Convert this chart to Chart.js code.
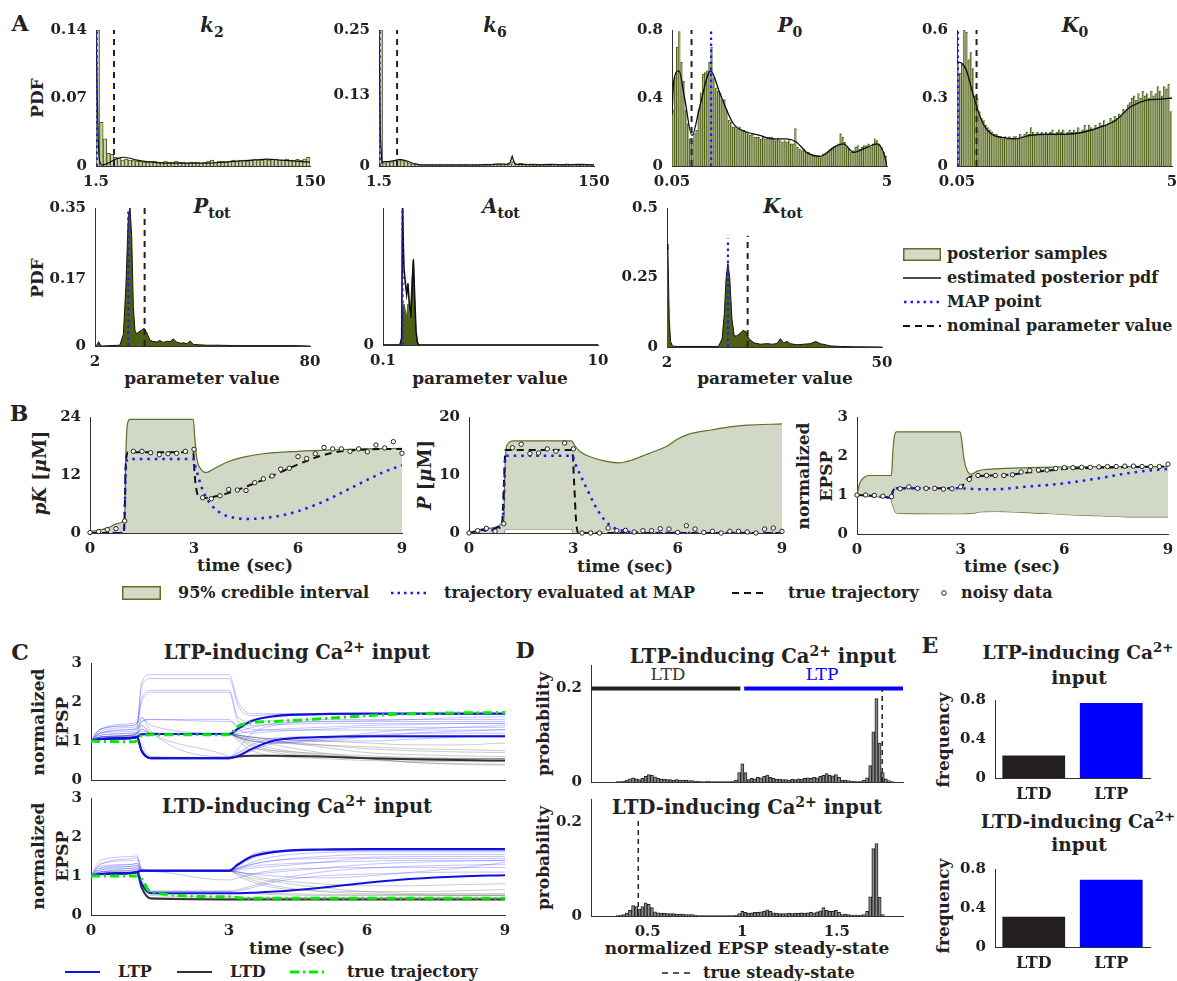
<!DOCTYPE html>
<html lang="en">
<head>
<meta charset="UTF-8" />
<title>Posterior inference and plasticity prediction</title>
<script src="https://cdn.jsdelivr.net/npm/chart.js"></script>
<style>
  body { margin: 0; background: #fff; }
  #fig { position: relative; width: 1177px; height: 981px; overflow: hidden; background: #fff;
         font-family: "DejaVu Serif", serif; font-weight: bold; color: #222; }
  #fig canvas { position: absolute; }
  #fig svg { position: absolute; overflow: visible; }
  .c { position: absolute; transform: translate(-50%, -50%); white-space: nowrap; line-height: 1.2; text-align: center; }
  .l { position: absolute; transform: translate(0, -50%); white-space: nowrap; line-height: 1.2; }
  .r { transform: translate(-50%, -50%) rotate(-90deg); }
  .panel { font-size: 22px; }
  .ttl { font-size: 19.5px; }
  .lab { font-size: 17px; }
  .leg { font-size: 16px; }
  sub { font-size: 72%; vertical-align: -0.3em; line-height: 0; }
  sup { font-size: 72%; vertical-align: 0.55em; line-height: 0; }
</style>
</head>
<body>
<div id="fig">
  <!-- panel letters -->
  <div class="c panel" style="left:20px;top:23px">A</div>
  <div class="c panel" style="left:19px;top:413px">B</div>
  <div class="c panel" style="left:20px;top:652px">C</div>
  <div class="c panel" style="left:525px;top:650px">D</div>
  <div class="c panel" style="left:930px;top:645px">E</div>

  <!-- A: parameter names -->
  <div class="c ttl" style="left:212px;top:26px"><i>k</i><sub>2</sub></div>
  <div class="c ttl" style="left:495px;top:26px"><i>k</i><sub>6</sub></div>
  <div class="c ttl" style="left:790px;top:26px"><i>P</i><sub>0</sub></div>
  <div class="c ttl" style="left:1075px;top:26px"><i>K</i><sub>0</sub></div>
  <div class="c ttl" style="left:212px;top:207px"><i>P</i><sub>tot</sub></div>
  <div class="c ttl" style="left:501px;top:207px"><i>A</i><sub>tot</sub></div>
  <div class="c ttl" style="left:783px;top:207px"><i>K</i><sub>tot</sub></div>
  <div class="c lab r" style="left:37px;top:98px">PDF</div>
  <div class="c lab r" style="left:37px;top:278px">PDF</div>
  <div class="c lab" style="left:202px;top:378px">parameter value</div>
  <div class="c lab" style="left:490px;top:378px">parameter value</div>
  <div class="c lab" style="left:775px;top:378px">parameter value</div>

  <!-- A legend -->
  <svg style="left:903px;top:248px" width="38" height="13"><rect x="0.75" y="0.75" width="36.5" height="11.5" fill="#d3dac8" stroke="#5e7029" stroke-width="1.5"/></svg>
  <svg style="left:903px;top:272px" width="38" height="12"><line x1="0" y1="6" x2="38" y2="6" stroke="#111" stroke-width="1.4"/></svg>
  <svg style="left:903px;top:296px" width="38" height="12"><line x1="1" y1="6" x2="38" y2="6" stroke="#1a1aff" stroke-width="2.5" stroke-dasharray="2.5 4"/></svg>
  <svg style="left:903px;top:320px" width="38" height="12"><line x1="0" y1="6" x2="38" y2="6" stroke="#111" stroke-width="2.2" stroke-dasharray="7 5"/></svg>
  <div class="l leg" style="left:947px;top:254px">posterior samples</div>
  <div class="l leg" style="left:947px;top:278px">estimated posterior pdf</div>
  <div class="l leg" style="left:947px;top:302px">MAP point</div>
  <div class="l leg" style="left:947px;top:326px">nominal parameter value</div>

  <!-- B: labels -->
  <div class="c lab r" style="left:40px;top:473px;font-size:18px"><i>pK</i> [<i>μ</i>M]</div>
  <div class="c lab r" style="left:425px;top:475px;font-size:18px"><i>P</i> [<i>μ</i>M]</div>
  <div class="c lab r" style="left:815px;top:476px;line-height:23px">normalized<br>EPSP</div>
  <div class="c lab" style="left:245px;top:565px">time (sec)</div>
  <div class="c lab" style="left:625px;top:566px">time (sec)</div>
  <div class="c lab" style="left:1012px;top:566px">time (sec)</div>

  <!-- B legend -->
  <svg style="left:122px;top:586px" width="39" height="14"><rect x="0.75" y="0.75" width="37.5" height="12.5" fill="#d3dac8" stroke="#5e7029" stroke-width="1.5"/></svg>
  <div class="l leg" style="left:178px;top:593px">95% credible interval</div>
  <svg style="left:390px;top:587px" width="36" height="12"><line x1="1" y1="6" x2="36" y2="6" stroke="#1a1aff" stroke-width="2.5" stroke-dasharray="2.5 4"/></svg>
  <div class="l leg" style="left:444px;top:593px">trajectory evaluated at MAP</div>
  <svg style="left:732px;top:587px" width="35" height="12"><line x1="0" y1="6" x2="35" y2="6" stroke="#111" stroke-width="2.2" stroke-dasharray="7 5"/></svg>
  <div class="l leg" style="left:788px;top:593px">true trajectory</div>
  <svg style="left:939px;top:588px" width="10" height="10"><circle cx="5" cy="5" r="2.3" fill="#fff" stroke="#222" stroke-width="1"/></svg>
  <div class="l leg" style="left:961px;top:593px">noisy data</div>

  <!-- C: labels -->
  <div class="c ttl" style="left:297px;top:653px">LTP-inducing Ca<sup>2+</sup> input</div>
  <div class="c ttl" style="left:297px;top:807px">LTD-inducing Ca<sup>2+</sup> input</div>
  <div class="c lab r" style="left:50px;top:722px;line-height:24px">normalized<br>EPSP</div>
  <div class="c lab r" style="left:50px;top:856px;line-height:24px">normalized<br>EPSP</div>
  <div class="c lab" style="left:297px;top:948px">time (sec)</div>
  <svg style="left:65px;top:966px" width="35" height="12"><line x1="0" y1="6" x2="35" y2="6" stroke="#1010e0" stroke-width="2"/></svg>
  <div class="l leg" style="left:118px;top:972px">LTP</div>
  <svg style="left:177px;top:966px" width="35" height="12"><line x1="0" y1="6" x2="35" y2="6" stroke="#333" stroke-width="2"/></svg>
  <div class="l leg" style="left:230px;top:972px">LTD</div>
  <svg style="left:290px;top:966px" width="37" height="12"><line x1="0" y1="6" x2="37" y2="6" stroke="#00ee00" stroke-width="3" stroke-dasharray="9 4 2 4"/></svg>
  <div class="l leg" style="left:347px;top:972px">true trajectory</div>

  <!-- D: labels -->
  <div class="c ttl" style="left:763px;top:657px">LTP-inducing Ca<sup>2+</sup> input</div>
  <div class="c ttl" style="left:747px;top:808px">LTD-inducing Ca<sup>2+</sup> input</div>
  <div class="c lab r" style="left:543px;top:724px">probability</div>
  <div class="c lab r" style="left:543px;top:858px">probability</div>
  <div class="c" style="left:668px;top:674px;font-size:17px;font-weight:normal;color:#333">LTD</div>
  <div class="c" style="left:822px;top:674px;font-size:17px;font-weight:normal;color:#0000ff">LTP</div>
  <div class="c lab" style="left:747px;top:948px">normalized EPSP steady-state</div>
  <svg style="left:662px;top:967px" width="32" height="12"><line x1="0" y1="6" x2="32" y2="6" stroke="#222" stroke-width="1.6" stroke-dasharray="6 5"/></svg>
  <div class="l leg" style="left:703px;top:973px">true steady-state</div>

  <!-- E: labels -->
  <div class="c ttl" style="left:1078px;top:653px;font-size:18.5px">LTP-inducing Ca<sup>2+</sup></div>
  <div class="c ttl" style="left:1079px;top:678px;font-size:18.5px">input</div>
  <div class="c ttl" style="left:1078px;top:822px;font-size:18.5px">LTD-inducing Ca<sup>2+</sup></div>
  <div class="c ttl" style="left:1079px;top:845px;font-size:18.5px">input</div>
  <div class="c lab r" style="left:943px;top:740px">frequency</div>
  <div class="c lab r" style="left:943px;top:906px">frequency</div>
</div>

<script>
  // ===== A: posterior samples of each parameter =====
  const k2Range = [1.5, 150]
  const k2Hist = [0.14, 0.045, 0.028, 0.013, 0.012, 0.009, 0.008, 0.006, 0.007, 0.006,
    0.006, 0.005, 0.005, 0.004, 0.004, 0.005, 0.005, 0.004, 0.004, 0.005,
    0.004, 0.004, 0.005, 0.004, 0.004, 0.003, 0.004, 0.004, 0.004, 0.003,
    0.004, 0.005, 0.006, 0.004, 0.005, 0.005, 0.004, 0.005, 0.006, 0.005,
    0.006, 0.006, 0.005, 0.006, 0.007, 0.006, 0.006, 0.007, 0.006, 0.007,
    0.007, 0.006, 0.006, 0.007, 0.006, 0.006, 0.007, 0.006, 0.007, 0.009]
  const k2PdfX = [1.5, 2, 3, 4, 6, 10, 15, 20, 25, 30, 40, 50, 60, 70, 80, 90, 100, 110, 120, 130, 140, 150]
  const k2PdfY = [0.14, 0.1, 0.03, 0.005, 0.001, 0.003, 0.007, 0.009, 0.008, 0.006, 0.004, 0.003, 0.003, 0.003, 0.003, 0.004, 0.005, 0.006, 0.007, 0.006, 0.005, 0.004]
  const k2Map = 2, k2Nominal = 14

  const k6Range = [1.5, 150]
  const k6Hist = [0.25, 0.006, 0.008, 0.008, 0.01, 0.012, 0.01, 0.008, 0.006, 0.004,
    0.003, 0.002, 0.002, 0.002, 0.002, 0.001, 0.002, 0.002, 0.001, 0.002,
    0.002, 0.001, 0.002, 0.002, 0.002, 0.001, 0.002, 0.002, 0.002, 0.002,
    0.002, 0.002, 0.003, 0.002, 0.002, 0.003, 0.004, 0.008, 0.003, 0.005,
    0.004, 0.003, 0.004, 0.004, 0.003, 0.002, 0.002, 0.002, 0.003, 0.003,
    0.002, 0.003, 0.004, 0.003, 0.003, 0.002, 0.002, 0.003, 0.002, 0.002]
  const k6PdfX = [1.5, 2.5, 3.5, 5, 8, 12, 16, 20, 25, 30, 40, 50, 60, 70, 80, 85, 90, 92, 93.5, 95, 97, 100, 110, 120, 130, 140, 150]
  const k6PdfY = [0.25, 0.05, 0.006, 0.008, 0.008, 0.01, 0.012, 0.01, 0.005, 0.002, 0.002, 0.002, 0.002, 0.002, 0.003, 0.004, 0.003, 0.006, 0.018, 0.005, 0.003, 0.003, 0.002, 0.003, 0.002, 0.003, 0.002]
  const k6Map = 2, k6Nominal = 14

  const p0Range = [0.05, 5]
  const p0Hist = [0.33, 0.52, 0.70, 0.79, 0.61, 0.50, 0.33, 0.25, 0.16, 0.15,
    0.19, 0.21, 0.33, 0.43, 0.54, 0.55, 0.56, 0.61, 0.70, 0.52,
    0.46, 0.44, 0.43, 0.39, 0.39, 0.33, 0.27, 0.26, 0.23, 0.23,
    0.22, 0.23, 0.21, 0.21, 0.20, 0.19, 0.18, 0.19, 0.17, 0.17,
    0.17, 0.16, 0.17, 0.16, 0.17, 0.17, 0.17, 0.16, 0.15, 0.16,
    0.15, 0.14, 0.15, 0.14, 0.15, 0.13, 0.13, 0.22, 0.11, 0.10,
    0.09, 0.10, 0.08, 0.08, 0.07, 0.06, 0.06, 0.06, 0.06, 0.05,
    0.07, 0.07, 0.08, 0.09, 0.10, 0.11, 0.12, 0.13, 0.19, 0.17,
    0.14, 0.11, 0.10, 0.08, 0.09, 0.11, 0.12, 0.10, 0.11, 0.12,
    0.12, 0.13, 0.11, 0.13, 0.16, 0.15, 0.13, 0.11, 0.08, 0.06]
  const p0PdfX = [0.05, 0.09, 0.21, 0.34, 0.51, 0.69, 0.94, 1.15, 1.46, 1.77, 2.07, 2.38, 2.69, 2.92, 3.15, 3.46, 3.77, 4.0, 4.23, 4.54, 4.77, 4.92, 5.0]
  const p0PdfY = [0.3, 0.5, 0.56, 0.40, 0.18, 0.35, 0.56, 0.43, 0.25, 0.20, 0.18, 0.16, 0.16, 0.14, 0.08, 0.057, 0.11, 0.13, 0.08, 0.11, 0.13, 0.08, 0]
  const p0Map = 0.95, p0Nominal = 0.5

  const k0Range = [0.05, 5]
  const k0Hist = [0.46, 0.41, 0.45, 0.60, 0.59, 0.47, 0.50, 0.43, 0.31, 0.30,
    0.24, 0.21, 0.20, 0.18, 0.17, 0.16, 0.15, 0.14, 0.14, 0.13,
    0.13, 0.12, 0.13, 0.12, 0.13, 0.12, 0.13, 0.13, 0.12, 0.14,
    0.13, 0.14, 0.15, 0.14, 0.17, 0.15, 0.14, 0.15, 0.14, 0.15,
    0.14, 0.15, 0.14, 0.15, 0.16, 0.14, 0.15, 0.16, 0.15, 0.16,
    0.14, 0.15, 0.16, 0.15, 0.16, 0.15, 0.17, 0.15, 0.16, 0.18,
    0.16, 0.18, 0.17, 0.16, 0.18, 0.17, 0.19, 0.18, 0.20, 0.18,
    0.19, 0.21, 0.20, 0.22, 0.21, 0.23, 0.22, 0.25, 0.24, 0.27,
    0.28, 0.30, 0.31, 0.29, 0.32, 0.30, 0.33, 0.31, 0.32, 0.30,
    0.33, 0.31, 0.32, 0.35, 0.33, 0.31, 0.35, 0.34, 0.36, 0.24]
  const k0PdfX = [0.05, 0.18, 0.27, 0.40, 0.54, 0.67, 0.85, 1.11, 1.38, 1.74, 2.09, 2.53, 2.98, 3.33, 3.69, 4.04, 4.40, 4.75, 5.0]
  const k0PdfY = [0.46, 0.45, 0.42, 0.33, 0.24, 0.18, 0.14, 0.125, 0.12, 0.135, 0.14, 0.14, 0.15, 0.17, 0.2, 0.26, 0.29, 0.295, 0.3]
  const k0Map = 0.07, k0Nominal = 0.5

  const ptotX = [2, 2.8, 3.3, 4.2, 11, 12.3, 13.2, 14.1, 14.7, 15.3, 15.9, 16.5, 17.1, 17.7, 18.9, 19.8, 20.7, 21.9, 22.8, 24.4,
    25.5, 26.8, 28, 29.2, 30.4, 31.6, 33, 34, 35.5, 36.5, 37.7, 40, 42.5, 47, 52, 60, 74, 80]
  const ptotY = [0, 0.003, 0.011, 0, 0.002, 0.03, 0.15, 0.33, 0.35, 0.28, 0.1, 0.04, 0.03, 0.035, 0.04, 0.045, 0.035, 0.015, 0.012, 0.01,
    0.014, 0.009, 0.012, 0.011, 0.018, 0.01, 0.007, 0.008, 0.006, 0.013, 0.004, 0.003, 0.002, 0.002, 0.001, 0.001, 0.001, 0]
  const ptotMap = 14.1, ptotNominal = 20

  const atotX = [0.1, 0.88, 0.96, 1.0, 1.04, 1.07, 1.13, 1.19, 1.25, 1.31, 1.38, 1.44, 1.5, 1.56, 1.62, 1.68, 1.74, 10]
  const atotHist = [0, 0, 0.05, 0.2, 0.3, 0.3, 0.25, 0.2, 0.3, 0.15, 0.3, 0.5, 0.63, 0.3, 0.1, 0.03, 0, 0]
  const atotPdf = [0, 0, 0.05, 1.05, 0.7, 0.55, 0.45, 0.37, 0.45, 0.3, 0.2, 0.4, 0.62, 0.35, 0.1, 0.02, 0, 0]
  const atotMap = 1.0

  const ktotX = [2, 2.2, 2.5, 2.8, 3.2, 4, 13.5, 14.3, 14.8, 15.2, 15.6, 16.0, 16.5, 17.0, 17.6, 18.4, 19.0, 19.6, 20.3, 21.4,
    22.8, 24.3, 25.6, 26.6, 27.3, 28, 28.8, 29.5, 31, 32.5, 34, 35.2, 36.2, 38.5, 40.7, 43.7, 50]
  const ktotY = [0.37, 0.35, 0.1, 0.02, 0.004, 0.002, 0.002, 0.03, 0.12, 0.25, 0.3, 0.25, 0.1, 0.04, 0.04, 0.05, 0.06, 0.055, 0.03, 0.015,
    0.01, 0.012, 0.01, 0.013, 0.03, 0.015, 0.02, 0.012, 0.008, 0.01, 0.012, 0.02, 0.012, 0.004, 0.002, 0.001, 0]
  const ktotMap = 15.6, ktotNominal = 20

  // ===== B: credible intervals of the trajectories =====
  const sampleT = [0, 0.25, 0.5, 0.75, 1, 1.25, 1.5, 1.75, 2, 2.25, 2.5, 2.75, 3, 3.25, 3.5, 3.75, 4, 4.25, 4.5,
    4.75, 5, 5.25, 5.5, 5.75, 6, 6.25, 6.5, 6.75, 7, 7.25, 7.5, 7.75, 8, 8.25, 8.5, 8.75, 9]

  const pkUpperT = [0, 0.5, 0.8, 1.0, 1.03, 1.08, 1.15, 2.98, 3.02, 3.08, 3.2, 3.35, 3.6, 4.0, 4.5, 5, 6, 7, 8, 9]
  const pkUpper = [0.3, 1.0, 2.0, 2.8, 15, 22.5, 23.5, 23.5, 20, 15.5, 13.2, 12.5, 13.4, 14.8, 15.8, 16.4, 16.9, 17.2, 17.4, 17.5]
  const pkLowerT = [0, 9]
  const pkLower = [0, 0]
  const pkTrueT = [0, 0.97, 1.0, 1.03, 1.1, 2.98, 3.02, 3.1, 3.2, 3.5, 4, 4.5, 5, 5.5, 6, 6.5, 7, 7.5, 8, 9]
  const pkTrue = [0, 0, 4, 14, 16.7, 16.7, 12, 8, 7.2, 7.4, 8.3, 9.6, 11.0, 12.6, 14.2, 15.6, 16.6, 17.1, 17.3, 17.4]
  const pkMapT = [0, 0.97, 1.0, 1.03, 1.1, 2.98, 3.05, 3.15, 3.3, 3.5, 3.8, 4.2, 4.6, 5, 5.5, 6, 6.5, 7, 7.5, 8, 8.5, 9]
  const pkMap = [0, 0, 4, 13, 15.3, 15.3, 13.5, 11, 8, 5.8, 4.0, 3.1, 2.9, 3.1, 3.6, 4.5, 5.8, 7.4, 9.2, 11, 12.7, 14.0]
  const pkNoisy = [0.1, 0.3, 0.7, 0.9, 2.5, 16.9, 16.9, 16.6, 16.2, 16.4, 16.5, 16.9, 17.3, 7.3, 7.1, 7.7, 9.0, 8.9, 8.8,
    10.4, 11.2, 11.8, 13.2, 13.4, 15.8, 15.4, 16.4, 17.7, 17.4, 17.4, 16.9, 17.4, 16.8, 18.2, 17.6, 18.9, 16.5]

  const pUpperT = [0, 0.5, 1.0, 1.03, 1.08, 1.3, 2.95, 3.05, 3.2, 3.5, 4.0, 4.3, 4.7, 5.0, 5.3, 5.7, 6.0, 6.3, 7, 7.5, 8, 9]
  const pUpper = [0, 0.8, 2.0, 10, 15, 15.9, 15.9, 15.0, 14.0, 13.1, 12.3, 12.1, 12.6, 13.3, 14.0, 15.0, 16.2, 17.0, 17.8, 18.3, 18.6, 18.8]
  const pLowerT = [0, 1.0, 1.05, 2.95, 3.0, 9]
  const pLower = [0, 0, 0.7, 0.7, 0, 0]
  const pTrueT = [0, 0.5, 0.95, 1.0, 1.05, 2.97, 3.02, 3.08, 3.15, 9]
  const pTrue = [0, 0.6, 1.6, 8, 14.3, 14.3, 9, 2, 0, 0]
  const pMapT = [0, 0.5, 0.95, 1.0, 1.05, 2.97, 3.05, 3.2, 3.4, 3.6, 3.8, 4.0, 4.2, 4.5, 5, 9]
  const pMap = [0, 0.4, 1.3, 5, 13.3, 13.3, 12, 10, 7.5, 5, 3, 1.6, 0.8, 0.3, 0.05, 0]
  const pNoisy = [0, 0.4, 0.8, 0.3, 1.6, 14.7, 15.3, 13.7, 13.8, 14.5, 14.1, 15.5, 14.5, 0, 0, 0, 0.86, 0.4, 0.46,
    0.17, 0.4, 0.4, 0.74, 0.69, 0.11, 1.26, 0.69, 0.1, 0.29, 0, 0.29, 0.29, 0.17, 0, 0.69, 0.86, 0.29]

  const epspUpperT = [0, 0.08, 0.2, 0.35, 1.0, 1.03, 1.08, 1.15, 2.98, 3.03, 3.1, 3.2, 3.3, 3.5, 4.0, 5, 6, 7, 9]
  const epspUpper = [1.0, 1.3, 1.45, 1.5, 1.5, 2.0, 2.5, 2.62, 2.62, 2.4, 1.9, 1.6, 1.53, 1.62, 1.67, 1.7, 1.72, 1.73, 1.73]
  const epspLowerT = [0, 0.5, 0.98, 1.03, 1.1, 1.2, 3.0, 3.3, 3.6, 4.0, 5, 6, 7, 8, 9]
  const epspLower = [1.0, 0.96, 0.9, 0.75, 0.58, 0.53, 0.52, 0.53, 0.57, 0.58, 0.55, 0.5, 0.47, 0.44, 0.44]
  const epspTrueT = [0, 0.5, 0.98, 1.05, 1.15, 3.0, 3.1, 3.2, 3.35, 4.0, 4.5, 5, 5.5, 6, 7, 8, 9]
  const epspTrue = [1.0, 0.98, 0.94, 1.12, 1.17, 1.17, 1.3, 1.42, 1.48, 1.5, 1.53, 1.58, 1.62, 1.67, 1.7, 1.72, 1.73]
  const epspMapT = [0, 0.5, 0.98, 1.05, 1.15, 3.0, 3.5, 4.0, 5, 6, 7, 8, 9]
  const epspMap = [1.0, 0.97, 0.93, 1.12, 1.17, 1.17, 1.15, 1.15, 1.22, 1.3, 1.43, 1.58, 1.67]
  const epspNoisy = [1.0, 1.0, 0.99, 0.97, 0.96, 1.16, 1.21, 1.17, 1.17, 1.17, 1.15, 1.16, 1.21, 1.4, 1.5, 1.5, 1.5, 1.5, 1.52,
    1.59, 1.63, 1.64, 1.64, 1.68, 1.7, 1.7, 1.71, 1.71, 1.72, 1.73, 1.73, 1.74, 1.74, 1.73, 1.73, 1.73, 1.79]

  // ===== C: EPSP trajectories of the posterior samples =====
  const cT = [0, 0.2, 0.9, 1.0, 1.1, 1.3, 2.9, 3.0, 3.2, 3.5, 4, 5, 6, 7, 8, 9]

  const cTopLtpRuns = [
    [1.0, 1.3, 1.4, 1.45, 2.5, 2.7, 2.7, 2.7, 2.0, 1.7, 1.7, 1.7, 1.7, 1.7, 1.7, 1.7],
    [1.0, 1.25, 1.35, 1.4, 2.4, 2.6, 2.6, 2.6, 1.9, 1.65, 1.68, 1.7, 1.7, 1.7, 1.7, 1.7],
    [1.0, 1.2, 1.3, 1.35, 2.1, 2.3, 2.3, 2.3, 1.6, 1.5, 1.52, 1.55, 1.55, 1.55, 1.55, 1.55],
    [1.0, 1.3, 1.45, 1.5, 2.0, 2.25, 2.25, 2.25, 1.5, 1.4, 1.42, 1.45, 1.45, 1.45, 1.45, 1.45],
    [1.0, 1.15, 1.2, 1.25, 1.5, 1.55, 1.55, 1.55, 1.3, 1.2, 1.25, 1.3, 1.35, 1.35, 1.35, 1.35],
    [1.0, 1.1, 1.15, 1.2, 1.6, 1.4, 1.2, 1.2, 1.1, 1.0, 0.95, 1.0, 1.1, 1.2, 1.25, 1.3],
    [1.0, 1.05, 1.08, 1.1, 1.18, 1.18, 1.18, 1.18, 1.3, 1.5, 1.62, 1.68, 1.7, 1.7, 1.7, 1.7],
    [1.0, 1.05, 1.08, 1.1, 0.8, 0.56, 0.56, 0.56, 0.7, 0.9, 1.08, 1.11, 1.12, 1.12, 1.12, 1.12],
    [1.0, 1.05, 1.1, 1.12, 0.9, 0.6, 0.58, 0.58, 0.8, 1.2, 1.4, 1.5, 1.5, 1.5, 1.5, 1.5],
    [1.0, 1.2, 1.25, 1.3, 1.4, 1.2, 1.18, 1.18, 1.25, 1.35, 1.45, 1.5, 1.52, 1.55, 1.6, 1.62],
    [1.0, 1.1, 1.15, 1.2, 1.3, 1.18, 1.18, 1.18, 1.1, 1.0, 0.95, 1.05, 1.2, 1.3, 1.35, 1.4],
    [1.0, 1.3, 1.4, 1.45, 1.6, 1.25, 0.6, 0.6, 0.65, 0.8, 1.0, 1.1, 1.15, 1.2, 1.2, 1.2],
    [1.0, 1.15, 1.2, 1.22, 1.18, 1.18, 1.18, 1.18, 1.2, 1.25, 1.3, 1.35, 1.4, 1.42, 1.45, 1.45],
    [1.0, 1.05, 1.1, 1.12, 1.18, 1.2, 1.2, 1.2, 1.15, 1.1, 1.05, 1.0, 1.0, 1.05, 1.1, 1.15],
    [1.0, 1.2, 1.3, 1.33, 1.5, 1.55, 1.5, 1.5, 1.4, 1.3, 1.28, 1.28, 1.28, 1.28, 1.28, 1.28],
    [1.0, 1.1, 1.12, 1.15, 0.7, 0.57, 0.56, 0.56, 0.6, 0.75, 0.95, 1.05, 1.1, 1.1, 1.1, 1.1]
  ]
  const cTopLtdRuns = [
    [1.0, 1.05, 1.08, 1.1, 1.18, 1.18, 1.18, 1.18, 1.05, 0.85, 0.7, 0.6, 0.55, 0.52, 0.5, 0.5],
    [1.0, 1.05, 1.08, 1.1, 1.18, 1.18, 1.18, 1.18, 1.1, 0.95, 0.8, 0.65, 0.58, 0.55, 0.55, 0.55],
    [1.0, 1.1, 1.15, 1.2, 1.3, 1.2, 1.18, 1.18, 1.15, 1.05, 0.9, 0.7, 0.55, 0.45, 0.42, 0.4],
    [1.0, 1.05, 1.1, 1.12, 1.18, 1.18, 1.18, 1.18, 1.12, 1.05, 1.0, 0.9, 0.8, 0.75, 0.72, 0.7],
    [1.0, 1.05, 1.08, 1.1, 1.18, 1.18, 1.18, 1.18, 1.0, 0.75, 0.62, 0.55, 0.5, 0.48, 0.47, 0.47],
    [1.0, 1.1, 1.15, 1.18, 1.25, 1.2, 1.18, 1.18, 1.15, 1.1, 1.05, 1.0, 0.95, 0.9, 0.9, 0.95],
    [1.0, 1.05, 1.1, 1.12, 1.4, 1.2, 0.65, 0.6, 0.6, 0.62, 0.62, 0.6, 0.58, 0.56, 0.55, 0.55],
    [1.0, 1.05, 1.08, 1.1, 1.18, 1.18, 1.18, 1.18, 1.08, 0.9, 0.75, 0.62, 0.55, 0.45, 0.4, 0.38],
    [1.0, 1.1, 1.12, 1.15, 1.18, 1.18, 1.18, 1.18, 1.15, 1.1, 1.0, 0.85, 0.7, 0.65, 0.62, 0.6],
    [1.0, 1.05, 1.08, 1.1, 0.8, 0.58, 0.57, 0.57, 0.7, 0.8, 0.75, 0.68, 0.62, 0.58, 0.56, 0.55],
    [1.0, 1.05, 1.08, 1.1, 1.18, 1.18, 1.18, 1.18, 1.1, 1.0, 0.95, 0.9, 0.85, 0.8, 0.78, 0.75]
  ]
  const cTopLtpMain = [1.0, 1.05, 1.08, 1.1, 1.17, 1.18, 1.18, 1.18, 1.32, 1.52, 1.64, 1.69, 1.7, 1.7, 1.7, 1.7]
  const cTopLtpLow = [1.0, 1.05, 1.08, 1.1, 0.75, 0.56, 0.56, 0.56, 0.62, 0.8, 1.02, 1.1, 1.12, 1.12, 1.12, 1.12]
  const cTopLtdMain = [1.0, 1.05, 1.08, 1.1, 0.75, 0.56, 0.56, 0.56, 0.6, 0.62, 0.62, 0.6, 0.56, 0.53, 0.51, 0.5]
  const cTopTrue = [1.0, 0.99, 0.98, 1.0, 1.14, 1.16, 1.16, 1.16, 1.38, 1.47, 1.5, 1.57, 1.65, 1.7, 1.72, 1.73]

  const cBotLtpRuns = [
    [1.0, 1.4, 1.5, 1.52, 1.2, 1.15, 1.15, 1.15, 1.3, 1.55, 1.65, 1.68, 1.68, 1.68, 1.68, 1.68],
    [1.0, 1.3, 1.4, 1.42, 1.15, 1.12, 1.12, 1.12, 1.25, 1.45, 1.6, 1.65, 1.65, 1.65, 1.65, 1.65],
    [1.0, 1.2, 1.3, 1.33, 1.15, 1.13, 1.13, 1.13, 1.2, 1.3, 1.4, 1.5, 1.55, 1.55, 1.55, 1.55],
    [1.0, 1.1, 1.2, 1.22, 1.12, 1.12, 1.12, 1.12, 1.15, 1.2, 1.25, 1.35, 1.45, 1.45, 1.45, 1.45],
    [1.0, 1.05, 1.08, 1.1, 1.12, 1.13, 1.13, 1.13, 1.3, 1.5, 1.62, 1.66, 1.68, 1.68, 1.68, 1.68],
    [1.0, 1.15, 1.2, 1.22, 0.9, 0.62, 0.62, 0.62, 0.65, 0.75, 0.9, 1.1, 1.2, 1.25, 1.28, 1.3],
    [1.0, 1.25, 1.3, 1.32, 1.14, 1.12, 1.12, 1.12, 1.1, 1.05, 1.1, 1.2, 1.3, 1.35, 1.38, 1.4],
    [1.0, 1.1, 1.15, 1.18, 1.14, 1.13, 1.13, 1.13, 1.2, 1.35, 1.5, 1.6, 1.62, 1.62, 1.62, 1.62],
    [1.0, 1.3, 1.45, 1.48, 1.15, 1.12, 0.9, 0.9, 0.95, 1.05, 1.15, 1.2, 1.22, 1.22, 1.22, 1.22],
    [1.0, 1.05, 1.1, 1.12, 1.13, 1.13, 1.13, 1.13, 1.1, 1.05, 1.0, 0.95, 1.0, 1.1, 1.2, 1.35],
    [1.0, 1.2, 1.25, 1.27, 1.14, 1.12, 1.12, 1.12, 1.18, 1.25, 1.3, 1.35, 1.38, 1.4, 1.4, 1.4],
    [1.0, 1.05, 1.08, 1.1, 0.85, 0.6, 0.6, 0.6, 0.62, 0.7, 0.85, 1.0, 1.05, 1.08, 1.1, 1.1],
    [1.0, 1.15, 1.25, 1.28, 1.15, 1.14, 1.14, 1.14, 1.2, 1.3, 1.4, 1.45, 1.48, 1.5, 1.5, 1.5]
  ]
  const cBotLtdRuns = [
    [1.0, 1.05, 1.08, 1.1, 0.75, 0.45, 0.43, 0.43, 0.43, 0.43, 0.43, 0.43, 0.43, 0.43, 0.43, 0.43],
    [1.0, 1.1, 1.15, 1.18, 0.8, 0.5, 0.47, 0.47, 0.46, 0.45, 0.45, 0.45, 0.45, 0.45, 0.45, 0.45],
    [1.0, 1.05, 1.08, 1.1, 1.13, 1.13, 1.13, 1.13, 1.05, 0.9, 0.75, 0.6, 0.55, 0.52, 0.5, 0.5],
    [1.0, 1.05, 1.1, 1.12, 1.14, 1.13, 1.13, 1.13, 1.0, 0.85, 0.7, 0.62, 0.6, 0.6, 0.62, 0.65],
    [1.0, 1.05, 1.08, 1.1, 0.75, 0.55, 0.55, 0.55, 0.55, 0.55, 0.52, 0.5, 0.5, 0.5, 0.5, 0.5],
    [1.0, 1.05, 1.08, 1.1, 1.13, 1.13, 1.13, 1.13, 1.1, 1.0, 0.9, 0.8, 0.75, 0.75, 0.78, 0.8],
    [1.0, 1.05, 1.08, 1.1, 0.72, 0.44, 0.42, 0.42, 0.42, 0.42, 0.42, 0.42, 0.42, 0.42, 0.42, 0.42],
    [1.0, 1.05, 1.08, 1.1, 0.8, 0.6, 0.6, 0.6, 0.58, 0.56, 0.55, 0.53, 0.52, 0.52, 0.52, 0.52],
    [1.0, 1.1, 1.12, 1.15, 1.14, 1.13, 1.13, 1.13, 1.05, 0.95, 0.85, 0.7, 0.6, 0.55, 0.55, 0.55]
  ]
  const cBotLtpMain = [1.0, 1.05, 1.08, 1.1, 1.14, 1.14, 1.14, 1.14, 1.3, 1.5, 1.62, 1.68, 1.69, 1.69, 1.69, 1.69]
  const cBotLtpLow = [1.0, 1.05, 1.08, 1.1, 0.8, 0.56, 0.56, 0.56, 0.56, 0.57, 0.6, 0.7, 0.83, 0.93, 0.99, 1.02]
  const cBotLtdMain = [1.0, 1.05, 1.08, 1.1, 0.7, 0.42, 0.4, 0.4, 0.4, 0.4, 0.4, 0.4, 0.4, 0.4, 0.4, 0.4]
  const cBotTrue = [1.0, 1.0, 1.0, 1.0, 0.92, 0.58, 0.47, 0.47, 0.44, 0.43, 0.43, 0.43, 0.43, 0.43, 0.43, 0.43]

  // ===== D: histograms of the EPSP steady state =====
  const dRange = [0.2, 1.85]
  const dBinStart = 0.2, dBinWidth = 0.0165
  const dTopHist = [0, 0, 0, 0, 0, 0, 0, 0,
    0.001, 0.001, 0.002, 0.004, 0.007, 0.009, 0.007, 0.005,
    0.008, 0.012, 0.016, 0.014, 0.011, 0.008, 0.006, 0.006,
    0.005, 0.005, 0.004, 0.005, 0.004, 0.004, 0.004, 0.003,
    0.003, 0.002, 0.002, 0.001, 0.001, 0.002, 0.001, 0.001,
    0.001, 0.001, 0.001, 0.001, 0.001, 0.002, 0.004, 0.02,
    0.039, 0.02, 0.005, 0.008, 0.007, 0.01, 0.009, 0.012,
    0.015, 0.01, 0.008, 0.006, 0.006, 0.005, 0.005, 0.004,
    0.006, 0.005, 0.007, 0.006, 0.008, 0.009, 0.008, 0.01,
    0.009, 0.012, 0.014, 0.018, 0.015, 0.013, 0.016, 0.01,
    0.004, 0.004, 0.003, 0.002, 0.002, 0.001, 0.002, 0.004,
    0.009, 0.035, 0.107, 0.178, 0.083, 0.02, 0.007, 0.003,
    0.001, 0, 0, 0]
  const dBotHist = [0, 0, 0, 0, 0, 0, 0, 0,
    0.001, 0.002, 0.003, 0.006, 0.012, 0.022, 0.02, 0.015,
    0.02, 0.028, 0.025, 0.018, 0.009, 0.007, 0.006, 0.006,
    0.005, 0.005, 0.005, 0.004, 0.004, 0.004, 0.003, 0.003,
    0.003, 0.002, 0.001, 0.001, 0.001, 0.001, 0.001, 0.001,
    0.001, 0.001, 0.001, 0.001, 0.001, 0.001, 0.002, 0.005,
    0.01, 0.008, 0.006, 0.007, 0.008, 0.008, 0.009, 0.01,
    0.013, 0.01, 0.007, 0.006, 0.005, 0.005, 0.005, 0.006,
    0.005, 0.006, 0.006, 0.007, 0.006, 0.007, 0.008, 0.007,
    0.009, 0.011, 0.018, 0.012, 0.01, 0.01, 0.012, 0.008,
    0.003, 0.004, 0.003, 0.002, 0.002, 0.002, 0.002, 0.003,
    0.01, 0.041, 0.144, 0.155, 0.04, 0.003, 0, 0,
    0, 0, 0, 0]
  const dTopTrue = 1.74, dBotTrue = 0.45
  const dLtdSpan = [0.2, 0.99], dLtpSpan = [1.01, 1.85]
  const dSpanLevel = 0.2

  // ===== E: frequency of LTD vs LTP outcome =====
  const eCats = ['LTD', 'LTP']
  const eTopFreq = [0.23, 0.77]
  const eBotFreq = [0.31, 0.69]

  // ---------- common stuff ----------
  Chart.defaults.font.family = '"DejaVu Serif", serif'
  Chart.defaults.font.size = 15
  Chart.defaults.font.weight = 'bold'
  Chart.defaults.color = '#222'
  Chart.defaults.animation = false
  Chart.defaults.plugins.legend.display = false
  Chart.defaults.plugins.tooltip.enabled = false
  Chart.defaults.elements.point.radius = 0

  const OLIVE = '#4f6016'
  const SAMPLE_FILL = '#c9d1b6'
  const DENSE_FILL = '#a9b487'
  const BAND_FILL = '#d1d8c5'
  const BAND_EDGE = '#5e7029'
  const MAP_BLUE = '#1a1aff'

  const fig = document.getElementById('fig')
  const PAD_L = 80, PAD_T = 14, PAD_R = 30, PAD_B = 40

  // linear axis with fixed ticks, no grid
  function axis(min, max, ticks, showLabels) {
    return {
      type: 'linear', min: min, max: max, offset: false,
      grid: { display: false, drawTicks: false },
      border: { display: true, color: '#333', width: 1 },
      ticks: { autoSkip: false, maxRotation: 0, minRotation: 0, padding: 7, display: showLabels !== false,
               callback: function (v) { return String(v) } },
      afterBuildTicks: function (s) { s.ticks = ticks.map(function (v) { return { value: v } }) }
    }
  }

  // puts a chart so that its plot area lands exactly on area {x, y, w, h}
  function place(area, cfg) {
    const cv = document.createElement('canvas')
    cv.width = area.w + PAD_L + PAD_R
    cv.height = area.h + PAD_T + PAD_B
    cv.style.left = (area.x - PAD_L) + 'px'
    cv.style.top = (area.y - PAD_T) + 'px'
    fig.appendChild(cv)
    const o = cfg.options
    o.responsive = false
    o.layout = { autoPadding: false, padding: { left: 0, top: PAD_T, right: PAD_R, bottom: 0 } }
    o.scales.x.afterFit = function (s) { s.height = PAD_B; s.paddingLeft = 0; s.paddingRight = 0 }
    o.scales.y.afterFit = function (s) { s.width = PAD_L; s.paddingTop = 0; s.paddingBottom = 0 }
    if (o.scales.y.ticks) o.scales.y.ticks.padding = 9
    return new Chart(cv, cfg)
  }

  function pts(xs, ys) {
    return xs.map(function (x, i) { return { x: x, y: ys[i] } })
  }

  function curve(xs, ys, extra) {
    return Object.assign({ type: 'line', data: pts(xs, ys), pointRadius: 0, borderWidth: 1, fill: false }, extra)
  }

  function vline(x, h, color, dash, width) {
    return { type: 'line', data: [{ x: x, y: 0 }, { x: x, y: h }], borderColor: color, borderWidth: width,
             borderDash: dash, pointRadius: 0, fill: false, order: 1 }
  }

  function histBars(lo, width, vals, fill, edge, bw) {
    return {
      type: 'bar',
      data: vals.map(function (v, i) { return { x: lo + (i + 0.5) * width, y: v } }),
      backgroundColor: fill, borderColor: edge,
      borderWidth: bw, borderSkipped: false,
      barPercentage: 1, categoryPercentage: 1, grouped: false, order: 3
    }
  }

  function mapLine(x, h) { return vline(x, h, MAP_BLUE, [2.5, 3.5], 2.2) }
  function nominalLine(x, h) { return vline(x, h, '#222', [6, 5], 2) }

  function posterior(area, xr, yMax, yTicks, sets) {
    place(area, {
      type: 'bar',
      data: { datasets: sets },
      options: { scales: { x: axis(xr[0], xr[1], xr), y: axis(0, yMax, yTicks) } }
    })
  }

  // ---------- A ----------
  const wideEdge = { top: 1, left: 1, right: 1, bottom: 0 }
  const narrowEdge = { top: 1, left: 1.2, right: 0, bottom: 0 }
  posterior({ x: 96, y: 30, w: 214, h: 136 }, k2Range, 0.14, [0, 0.07, 0.14], [
    nominalLine(k2Nominal, 0.14), mapLine(k2Map, 0.14),
    curve(k2PdfX, k2PdfY, { borderColor: '#111', borderWidth: 1.2, cubicInterpolationMode: 'monotone', order: 2 }),
    histBars(k2Range[0], (k2Range[1] - k2Range[0]) / k2Hist.length, k2Hist, SAMPLE_FILL, OLIVE, wideEdge)
  ])
  posterior({ x: 379, y: 30, w: 215, h: 136 }, k6Range, 0.25, [0, 0.13, 0.25], [
    nominalLine(k6Nominal, 0.25), mapLine(k6Map, 0.25),
    curve(k6PdfX, k6PdfY, { borderColor: '#111', borderWidth: 1.2, order: 2 }),
    histBars(k6Range[0], (k6Range[1] - k6Range[0]) / k6Hist.length, k6Hist, SAMPLE_FILL, OLIVE, wideEdge)
  ])
  posterior({ x: 672, y: 30, w: 215, h: 136 }, p0Range, 0.8, [0, 0.4, 0.8], [
    nominalLine(p0Nominal, 0.8), mapLine(p0Map, 0.8),
    curve(p0PdfX, p0PdfY, { borderColor: '#0a0a1a', borderWidth: 1.3, cubicInterpolationMode: 'monotone', order: 2 }),
    histBars(p0Range[0], (p0Range[1] - p0Range[0]) / p0Hist.length, p0Hist, DENSE_FILL, OLIVE, narrowEdge)
  ])
  posterior({ x: 957, y: 30, w: 215, h: 136 }, k0Range, 0.6, [0, 0.3, 0.6], [
    nominalLine(k0Nominal, 0.6), mapLine(k0Map, 0.6),
    curve(k0PdfX, k0PdfY, { borderColor: '#0a0a1a', borderWidth: 1.3, cubicInterpolationMode: 'monotone', order: 2 }),
    histBars(k0Range[0], (k0Range[1] - k0Range[0]) / k0Hist.length, k0Hist, DENSE_FILL, OLIVE, narrowEdge)
  ])
  posterior({ x: 95, y: 208, w: 215, h: 138 }, [2, 80], 0.35, [0, 0.17, 0.35], [
    nominalLine(ptotNominal, 0.35), mapLine(ptotMap, 0.35),
    curve(ptotX, ptotY, { borderColor: '#111', borderWidth: 1, fill: 'origin', backgroundColor: '#4e5f14', order: 2 })
  ])
  posterior({ x: 383, y: 208, w: 215, h: 137 }, [0.1, 10], 1, [0], [
    mapLine(atotMap, 1),
    curve(atotX, atotPdf, { borderColor: '#111', borderWidth: 1.6, order: 2 }),
    curve(atotX, atotHist, { borderColor: '#4e5f14', borderWidth: 1, fill: 'origin', backgroundColor: '#4e5f14', order: 3 })
  ])
  posterior({ x: 667, y: 208, w: 215, h: 139 }, [2, 50], 0.5, [0, 0.25, 0.5], [
    nominalLine(ktotNominal, 0.4), mapLine(ktotMap, 0.39),
    curve(ktotX, ktotY, { borderColor: '#111', borderWidth: 1, fill: 'origin', backgroundColor: '#4e5f14', order: 2 })
  ])

  // ---------- B ----------
  function trajectory(area, yMax, yTicks, upT, up, loT, lo, trT, tr, mpT, mp, noisy) {
    place(area, {
      type: 'line',
      data: {
        datasets: [
          curve(upT, up, { borderColor: BAND_EDGE, borderWidth: 1.2, fill: '+1', backgroundColor: BAND_FILL,
                           cubicInterpolationMode: 'monotone', order: 5 }),
          curve(loT, lo, { borderColor: BAND_EDGE, borderWidth: 1.2, cubicInterpolationMode: 'monotone', order: 5 }),
          curve(trT, tr, { borderColor: '#111', borderWidth: 2, borderDash: [7, 5], cubicInterpolationMode: 'monotone', order: 3 }),
          curve(mpT, mp, { borderColor: MAP_BLUE, borderWidth: 2.5, borderDash: [2.5, 5], cubicInterpolationMode: 'monotone', order: 2 }),
          { type: 'line', data: pts(sampleT, noisy), showLine: false, pointRadius: 2.2, pointBorderWidth: 1,
            pointBorderColor: '#222', pointBackgroundColor: '#fff', clip: false, order: 1 }
        ]
      },
      options: { scales: { x: axis(0, 9, [0, 3, 6, 9]), y: axis(0, yMax, yTicks) } }
    })
  }
  trajectory({ x: 90, y: 417, w: 312, h: 116 }, 24, [0, 12, 24], pkUpperT, pkUpper, pkLowerT, pkLower,
    pkTrueT, pkTrue, pkMapT, pkMap, pkNoisy)
  trajectory({ x: 469, y: 417, w: 313, h: 116 }, 20, [0, 10, 20], pUpperT, pUpper, pLowerT, pLower,
    pTrueT, pTrue, pMapT, pMap, pNoisy)
  trajectory({ x: 857, y: 417, w: 311, h: 117 }, 3, [0, 1, 2, 3], epspUpperT, epspUpper, epspLowerT, epspLower,
    epspTrueT, epspTrue, epspMapT, epspMap, epspNoisy)

  // ---------- C ----------
  function runs(list, color, width, order) {
    return list.map(function (r) {
      return curve(cT, r, { borderColor: color, borderWidth: width, cubicInterpolationMode: 'monotone', order: order })
    })
  }
  function epspSamples(area, ltpRuns, ltdRuns, ltpMain, ltpLow, ltdMain, truth, showX) {
    const sets = [].concat(
      runs(ltdRuns, 'rgba(70,70,70,0.35)', 0.8, 6),
      runs(ltpRuns, 'rgba(40,40,255,0.35)', 0.8, 5),
      [curve(cT, ltdMain, { borderColor: '#333', borderWidth: 2, cubicInterpolationMode: 'monotone', order: 4 }),
       curve(cT, ltpLow, { borderColor: '#1010e0', borderWidth: 2, cubicInterpolationMode: 'monotone', order: 3 }),
       curve(cT, ltpMain, { borderColor: '#1010e0', borderWidth: 2.2, cubicInterpolationMode: 'monotone', order: 2 }),
       curve(cT, truth, { borderColor: '#00ee00', borderWidth: 3, borderDash: [9, 4, 2, 4], cubicInterpolationMode: 'monotone', order: 1 })]
    )
    place(area, {
      type: 'line',
      data: { datasets: sets },
      options: { scales: { x: axis(0, 9, [0, 3, 6, 9], showX), y: axis(0, 3, [0, 1, 2, 3]) } }
    })
  }
  epspSamples({ x: 91, y: 663, w: 414, h: 117 }, cTopLtpRuns, cTopLtdRuns, cTopLtpMain, cTopLtpLow, cTopLtdMain, cTopTrue, false)
  epspSamples({ x: 91, y: 798, w: 414, h: 117 }, cBotLtpRuns, cBotLtdRuns, cBotLtpMain, cBotLtpLow, cBotLtdMain, cBotTrue, true)

  // ---------- D ----------
  function steadyState(area, hist, truth, truthTop, spans, showX) {
    const sets = [
      vline(truth, truthTop, '#222', [5, 4], 1.5),
      histBars(dBinStart, dBinWidth, hist, '#8a8a8a', '#222', { top: 1, left: 1, right: 1, bottom: 0 })
    ]
    if (spans) {
      sets.push(curve(dLtdSpan, [dSpanLevel, dSpanLevel], { borderColor: '#222', borderWidth: 4, order: 1 }))
      sets.push(curve(dLtpSpan, [dSpanLevel, dSpanLevel], { borderColor: '#0000ff', borderWidth: 4, order: 1 }))
    }
    place(area, {
      type: 'bar',
      data: { datasets: sets },
      options: { scales: { x: axis(dRange[0], dRange[1], [0.5, 1, 1.5], showX), y: axis(0, 0.25, [0, 0.2]) } }
    })
  }
  steadyState({ x: 591, y: 665, w: 312, h: 117 }, dTopHist, dTopTrue, 0.2, true, false)
  steadyState({ x: 591, y: 799, w: 312, h: 117 }, dBotHist, dBotTrue, 0.21, false, true)

  // ---------- E ----------
  function outcome(area, freq) {
    place(area, {
      type: 'bar',
      data: { labels: eCats, datasets: [{ data: freq, backgroundColor: ['#231f20', '#0000ff'], borderWidth: 0,
                                          barPercentage: 0.81, categoryPercentage: 1 }] },
      options: {
        scales: {
          x: { type: 'category', grid: { display: false, drawTicks: false }, border: { display: true, color: '#333', width: 1 },
               ticks: { padding: 7, maxRotation: 0, font: { size: 16 } } },
          y: axis(0, 0.8, [0, 0.4, 0.8])
        }
      }
    })
  }
  outcome({ x: 995, y: 700, w: 155, h: 78 }, eTopFreq)
  outcome({ x: 995, y: 869, w: 155, h: 78 }, eBotFreq)
</script>
</body>
</html>
